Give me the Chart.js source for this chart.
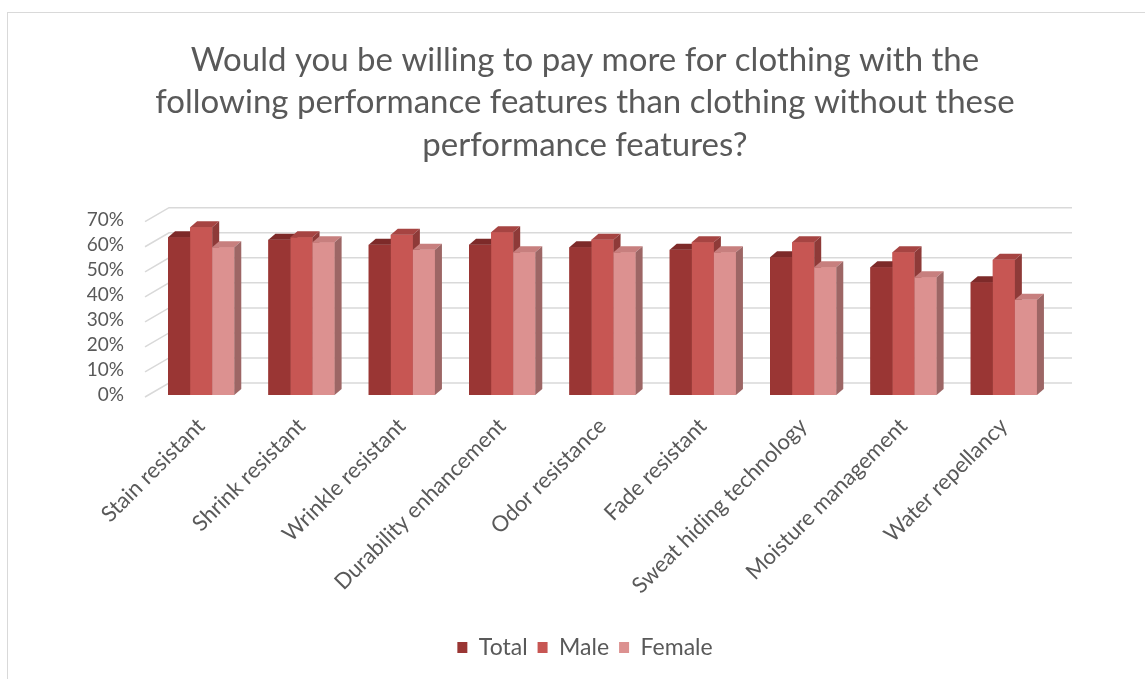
<!DOCTYPE html>
<html>
<head>
<meta charset="utf-8">
<script src="https://cdn.jsdelivr.net/npm/chart.js@4/dist/chart.umd.min.js"></script>
<style>
  html, body { margin: 0; padding: 0; background: #fff; overflow: hidden; }
  #frame { position: absolute; left: 7px; top: 12px; width: 1200px; height: 700px; border: 1px solid #d9d9d9; }
  #wrap { position: absolute; left: 0; top: 0; width: 1170px; height: 679px; }
</style>
</head>
<body>
<div id="frame"></div>
<div id="wrap"><canvas id="chart" width="1170" height="679"></canvas></div>
<script>
const categories = ['Stain resistant', 'Shrink resistant', 'Wrinkle resistant', 'Durability enhancement',
  'Odor resistance', 'Fade resistant', 'Sweat hiding technology', 'Moisture management', 'Water repellancy'];
const totalValues  = [63, 62, 60, 60, 59, 58, 55, 51, 45];
const maleValues   = [67, 63, 64, 65, 62, 61, 61, 57, 54];
const femaleValues = [59, 61, 58, 57, 57, 57, 51, 47, 38];
const yTicks = [0, 10, 20, 30, 40, 50, 60, 70];

const frontColors = ['#9a3634', '#c75653', '#dc9190'];
const topColors   = ['#7d2a29', '#a64442', '#c77f7e'];
const sideColors  = ['#6b2423', '#8e3a38', '#9d6665'];

const BAR_DX = 7, BAR_DY = -6;     // bar depth
const WALL_DX = 18, WALL_DY = -12; // back wall offset

const fontFamily = 'Lato, "Open Sans", sans-serif';
const grey = '#595959';

// back wall gridlines and 3D faces of the columns
const depth3d = {
  id: 'depth3d',
  beforeDatasetsDraw(chart) {
    const { ctx, chartArea: a, scales: { y } } = chart;
    ctx.save();
    ctx.strokeStyle = '#d9d9d9';
    ctx.lineWidth = 1.5;
    yTicks.forEach(v => {
      const py = y.getPixelForValue(v);
      ctx.beginPath();
      ctx.moveTo(a.left - 6, py + 2);
      ctx.lineTo(a.left + WALL_DX, py + WALL_DY);
      ctx.lineTo(a.right + WALL_DX, py + WALL_DY);
      ctx.stroke();
    });
    ctx.restore();
  },
  afterDatasetsDraw(chart) {
    const ctx = chart.ctx;
    const metas = chart.data.datasets.map((d, i) => chart.getDatasetMeta(i));
    ctx.save();
    for (let c = 0; c < categories.length; c++) {
      metas.forEach((meta, di) => {
        const { x, y, base, width } = meta.data[c].getProps(['x', 'y', 'base', 'width'], true);
        const l = x - width / 2, r = x + width / 2;
        ctx.fillStyle = frontColors[di];
        ctx.fillRect(l, y, width, base - y);
        ctx.fillStyle = topColors[di];
        ctx.beginPath();
        ctx.moveTo(l, y); ctx.lineTo(r, y);
        ctx.lineTo(r + BAR_DX, y + BAR_DY); ctx.lineTo(l + BAR_DX, y + BAR_DY);
        ctx.closePath(); ctx.fill();
        ctx.fillStyle = sideColors[di];
        ctx.beginPath();
        ctx.moveTo(r, y); ctx.lineTo(r + BAR_DX, y + BAR_DY);
        ctx.lineTo(r + BAR_DX, base + BAR_DY); ctx.lineTo(r, base);
        ctx.closePath(); ctx.fill();
      });
    }
    ctx.restore();
  }
};

new Chart(document.getElementById('chart'), {
  type: 'bar',
  data: {
    labels: categories,
    datasets: [
      { label: 'Total', data: totalValues, backgroundColor: frontColors[0] },
      { label: 'Male', data: maleValues, backgroundColor: frontColors[1] },
      { label: 'Female', data: femaleValues, backgroundColor: frontColors[2] }
    ]
  },
  options: {
    responsive: false,
    animation: false,
    layout: { padding: { top: 0, bottom: 10, left: 0, right: 0 } },
    datasets: { bar: { barPercentage: 1, categoryPercentage: 0.66 } },
    plugins: {
      title: {
        display: true,
        text: ['Would you be willing to pay more for clothing with the',
               'following performance features than clothing without these',
               'performance features?'],
        color: grey,
        font: { family: fontFamily, size: 33, weight: 'normal', lineHeight: 1.29 },
        padding: { top: 39, bottom: 53 }
      },
      legend: {
        position: 'bottom',
        labels: { color: grey, font: { family: fontFamily, size: 23 }, boxWidth: 10, boxHeight: 11, padding: 10 }
      },
      tooltip: { enabled: false }
    },
    scales: {
      x: {
        grid: { display: false },
        border: { display: false },
        ticks: { color: grey, font: { family: fontFamily, size: 22 }, minRotation: 45, maxRotation: 45, padding: 10, autoSkip: false },
        afterFit: s => { s.height = 231; }
      },
      y: {
        min: 0, max: 70,
        grid: { display: false, drawTicks: false },
        border: { display: false },
        ticks: { stepSize: 10, autoSkip: false, color: grey, font: { family: fontFamily, size: 19 }, padding: 27, callback: v => v + '%' },
        afterFit: s => { s.width = 151; }
      },
      pad: {
        type: 'linear',
        position: 'right',
        grid: { display: false, drawTicks: false },
        border: { display: false },
        ticks: { display: false },
        afterFit: s => { s.width = 116; }
      }
    }
  },
  plugins: [depth3d]
});
</script>
</body>
</html>
